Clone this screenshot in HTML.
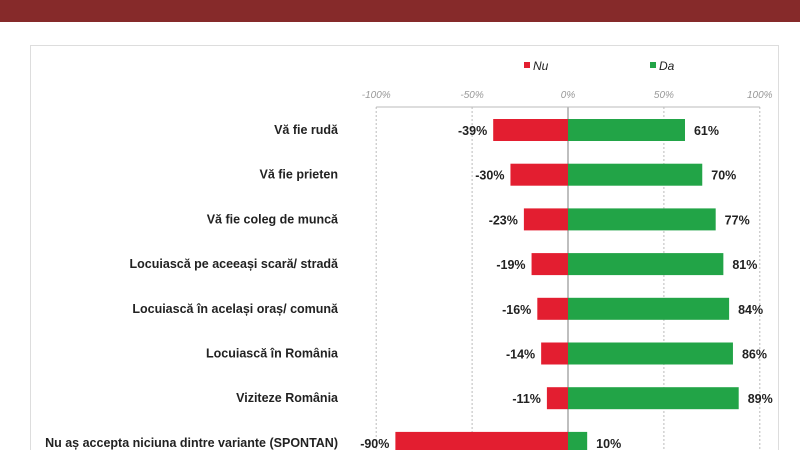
<!DOCTYPE html>
<html><head><meta charset="utf-8"><style>
body{margin:0;width:800px;height:450px;overflow:hidden;background:#fff;font-family:"Liberation Sans",sans-serif}
</style></head><body>
<div style="position:absolute;left:0;top:0;width:800px;height:22px;background:#862a2a"></div>
<svg id="chart" width="800" height="450" style="position:absolute;left:0;top:0">
<rect x="30.5" y="45.5" width="748" height="420" fill="#fff" stroke="#ddd"/>
</svg>
<script>
const categories=["Vă fie rudă","Vă fie prieten","Vă fie coleg de muncă","Locuiască pe aceeași scară/ stradă","Locuiască în același oraș/ comună","Locuiască în România","Viziteze România","Nu aș accepta niciuna dintre variante (SPONTAN)"];
const nuValues=[-39,-30,-23,-19,-16,-14,-11,-90];
const daValues=[61,70,77,81,84,86,89,10];
const tickValues=[-100,-50,0,50,100];
const tickLabels=["-100%","-50%","0%","50%","100%"];
const svg=document.getElementById('chart');const NS='http://www.w3.org/2000/svg';
const x=v=>568+v*1.918;
const rowTop=i=>119+i*44.7;
function mk(t,a,p){const e=document.createElementNS(NS,t);for(const k in a)e.setAttribute(k,a[k]);(p||svg).appendChild(e);return e;}
tickValues.forEach((v,i)=>{
const g=mk('line',{x1:x(v),x2:x(v),y1:107,y2:450,stroke:v===0?'#aaa':'#bbb','stroke-dasharray':v===0?'':'2,2','stroke-width':v===0?1.5:1});


const t=mk('text',{x:x(v),y:98,'text-anchor':'middle','font-size':10,'font-style':'italic',fill:'#999'});
t.textContent=tickLabels[i];


});
const ax=mk('line',{x1:x(-100),x2:x(100),y1:107,y2:107,stroke:'#bbb'});


categories.forEach((c,i)=>{
const y=rowTop(i);
const l=mk('text',{x:338,y:y+15,'text-anchor':'end','font-size':12.5,'font-weight':'bold',fill:'#222'});
l.textContent=c;


const rn=mk('rect',{x:x(nuValues[i]),y:y,width:x(0)-x(nuValues[i]),height:22,fill:'#e31e30'});


const rd=mk('rect',{x:x(0),y:y,width:x(daValues[i])-x(0),height:22,fill:'#22a447'});


const tn=mk('text',{x:x(nuValues[i])-6,y:y+16,'text-anchor':'end','font-size':12.5,'font-weight':'bold',fill:'#222'});
tn.textContent=nuValues[i]+'%';


const td=mk('text',{x:x(daValues[i])+9,y:y+16,'font-size':12.5,'font-weight':'bold',fill:'#222'});
td.textContent=daValues[i]+'%';


});
[['Nu','#e31e30',524],['Da','#22a447',650]].forEach(([n,c,lx])=>{
const r=mk('rect',{x:lx,y:62,width:6,height:6,fill:c});


const t=mk('text',{x:lx+9,y:70,'font-size':12,'font-style':'italic',fill:'#222'});
t.textContent=n;


});
</script>
</body></html>
